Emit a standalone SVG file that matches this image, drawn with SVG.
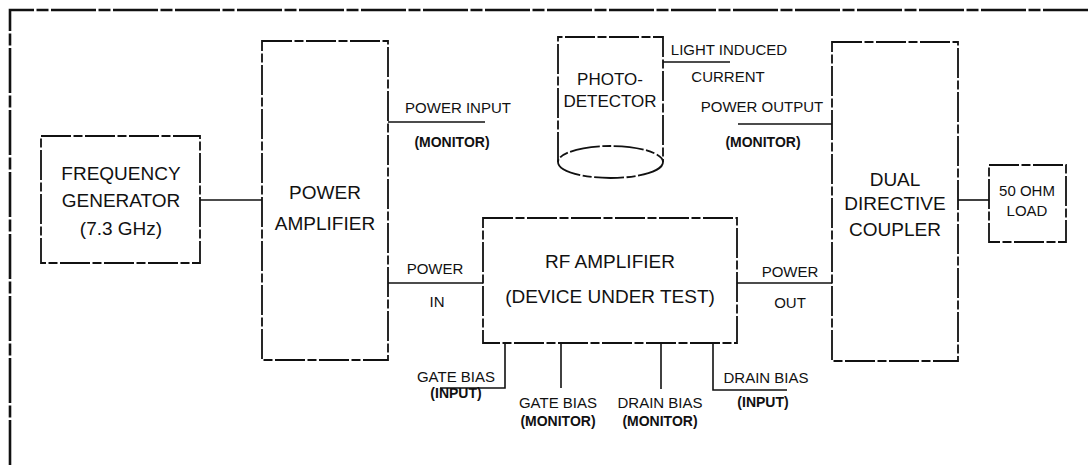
<svg xmlns="http://www.w3.org/2000/svg" width="1089" height="465" viewBox="0 0 1089 465">
<style>
.box{fill:none;stroke:#111;stroke-width:1.8;stroke-dasharray:30 2.5 9 2.5}
.wire{fill:none;stroke:#111;stroke-width:1.6}
.frame{fill:none;stroke:#111;stroke-width:2.6;stroke-dasharray:45 2.5 12 2.5}
.big{font-family:"Liberation Sans",Arial,sans-serif;font-size:19px;fill:#111;text-anchor:middle}
.mid{font-family:"Liberation Sans",Arial,sans-serif;font-size:17px;fill:#111;text-anchor:middle}
.sm{font-family:"Liberation Sans",Arial,sans-serif;font-size:15px;fill:#111;text-anchor:middle}
.mon{font-family:"Liberation Sans",Arial,sans-serif;font-size:14px;font-weight:bold;fill:#111;text-anchor:middle}
</style>
<rect width="1089" height="465" fill="#fff"/>
<path class="frame" d="M10,465 L10,10 L1089,10"/>
<g id="connectors">
<line class="wire" x1="200" y1="200" x2="262" y2="200"/>
<line class="wire" x1="388" y1="122" x2="485" y2="122"/>
<line class="wire" x1="388" y1="283" x2="483" y2="283"/>
<line class="wire" x1="737" y1="283" x2="832" y2="283"/>
<line class="wire" x1="738" y1="124" x2="832" y2="124"/>
<line class="wire" x1="663" y1="62" x2="730" y2="62"/>
<line class="wire" x1="958" y1="200" x2="989" y2="200"/>
<polyline class="wire" points="505,343 505,388 440,388"/>
<line class="wire" x1="561" y1="343" x2="561" y2="388"/>
<line class="wire" x1="661" y1="343" x2="661" y2="389"/>
<polyline class="wire" points="713,343 713,390 787,390"/>
</g>
<g id="freq-gen">
<rect class="box" x="41" y="136" width="159" height="127"/>
<text class="big" x="121" y="180">FREQUENCY</text>
<text class="big" x="121" y="207">GENERATOR</text>
<text class="big" x="121" y="235">(7.3 GHz)</text>
</g>
<g id="power-amp">
<rect class="box" x="262" y="41" width="126" height="319"/>
<text class="big" x="325" y="199">POWER</text>
<text class="big" x="325" y="230">AMPLIFIER</text>
</g>
<g id="photodetector">
<path class="box" d="M558,162 L558,37 L663,37 L663,162"/>
<ellipse class="box" cx="610.5" cy="162" rx="52.5" ry="16"/>
<text class="mid" x="610" y="85">PHOTO-</text>
<text class="mid" x="610" y="107">DETECTOR</text>
</g>
<g id="rf-amp">
<rect class="box" x="483" y="218" width="254" height="125"/>
<text class="big" x="610" y="268">RF AMPLIFIER</text>
<text class="big" x="610" y="303">(DEVICE UNDER TEST)</text>
</g>
<g id="coupler">
<rect class="box" x="832" y="42" width="126" height="319"/>
<text class="big" x="895" y="186">DUAL</text>
<text class="big" x="895" y="210">DIRECTIVE</text>
<text class="big" x="895" y="236">COUPLER</text>
</g>
<g id="load">
<rect class="box" x="989" y="165" width="77" height="77"/>
<text class="sm" x="1027" y="196">50 OHM</text>
<text class="sm" x="1027" y="216">LOAD</text>
</g>
<g id="labels">
<text class="sm" x="458" y="113">POWER INPUT</text>
<text class="mon" x="452" y="147">(MONITOR)</text>
<text class="sm" x="435" y="274">POWER</text>
<text class="sm" x="437" y="307">IN</text>
<text class="sm" x="729" y="55">LIGHT INDUCED</text>
<text class="sm" x="728" y="82">CURRENT</text>
<text class="sm" x="762" y="112">POWER OUTPUT</text>
<text class="mon" x="763" y="147">(MONITOR)</text>
<text class="sm" x="790" y="277">POWER</text>
<text class="sm" x="790" y="308">OUT</text>
<text class="sm" x="456" y="382">GATE BIAS</text>
<text class="mon" x="456" y="398">(INPUT)</text>
<text class="sm" x="558" y="408">GATE BIAS</text>
<text class="mon" x="558" y="426">(MONITOR)</text>
<text class="sm" x="660" y="408">DRAIN BIAS</text>
<text class="mon" x="660" y="426">(MONITOR)</text>
<text class="sm" x="766" y="383">DRAIN BIAS</text>
<text class="mon" x="763" y="407">(INPUT)</text>
</g>
</svg>
